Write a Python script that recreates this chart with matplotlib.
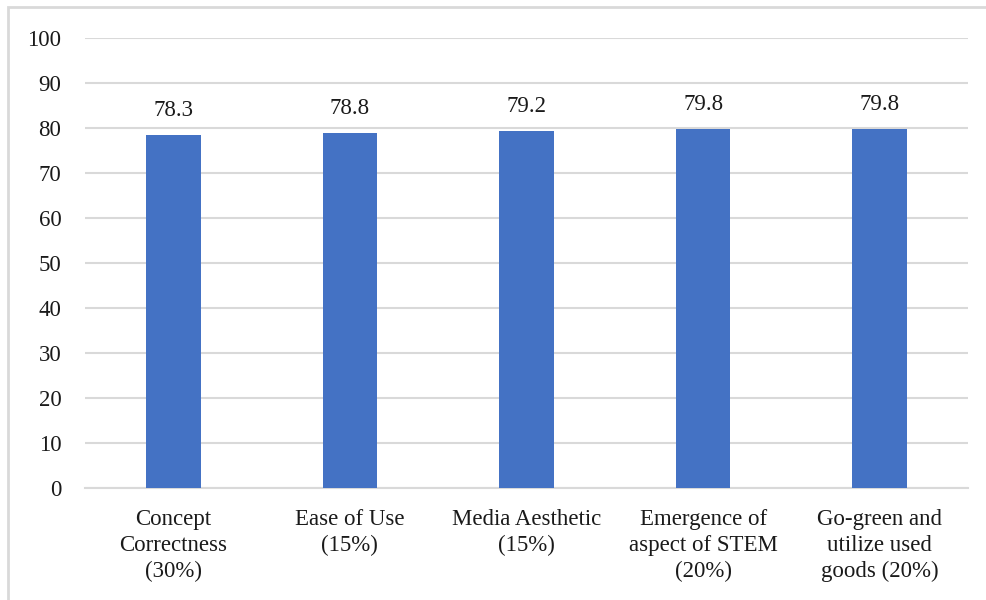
import matplotlib.pyplot as plt
from matplotlib.patches import Rectangle

categories = ['Concept\nCorrectness\n(30%)', 'Ease of Use\n(15%)',
              'Media Aesthetic\n(15%)', 'Emergence of\naspect of STEM\n(20%)',
              'Go-green and\nutilize used\ngoods (20%)']
scores = [78.3, 78.8, 79.2, 79.8, 79.8]
yticks = [0, 10, 20, 30, 40, 50, 60, 70, 80, 90, 100]

plt.rcParams['font.family'] = ['Liberation Serif', 'DejaVu Serif']

fig = plt.figure(figsize=(9.87, 6.0), dpi=100)
ax = fig.add_axes([85/987, 1-488/600, (968-85)/987, (488-37.5)/600])

x = range(len(categories))
bars = ax.bar(x, scores, width=0.31, color='#4472C4', zorder=3)
for i, v in enumerate(scores):
    ax.annotate('%.1f' % v, (i, v), xytext=(0, 10), textcoords='offset points',
                ha='center', va='bottom', fontsize=16.5, color='#1a1a1a')

ax.set_ylim(0, 100)
ax.set_xlim(-0.5, len(categories)-0.5)
ax.set_yticks(yticks)
ax.set_xticks(list(x))
ax.set_xticklabels(categories, fontsize=16.5, linespacing=1.3, color='#1a1a1a')
ax.tick_params(axis='y', labelsize=16.5, length=0, pad=17, labelcolor='#1a1a1a')
ax.tick_params(axis='x', length=0, pad=15)
ax.grid(axis='y', color='#d9d9d9', linewidth=1.5, zorder=0)
for s in ['top', 'right', 'left']:
    ax.spines[s].set_visible(False)
ax.spines['bottom'].set_color('#d9d9d9')
ax.spines['bottom'].set_linewidth(1.5)

# chart frame
fig.patches.append(Rectangle((8/987, -0.1), 1.1, 1.1 - 7/600, transform=fig.transFigure,
                             fill=False, edgecolor='#d9d9d9', linewidth=2))

fig.savefig('out.png', dpi=100)
